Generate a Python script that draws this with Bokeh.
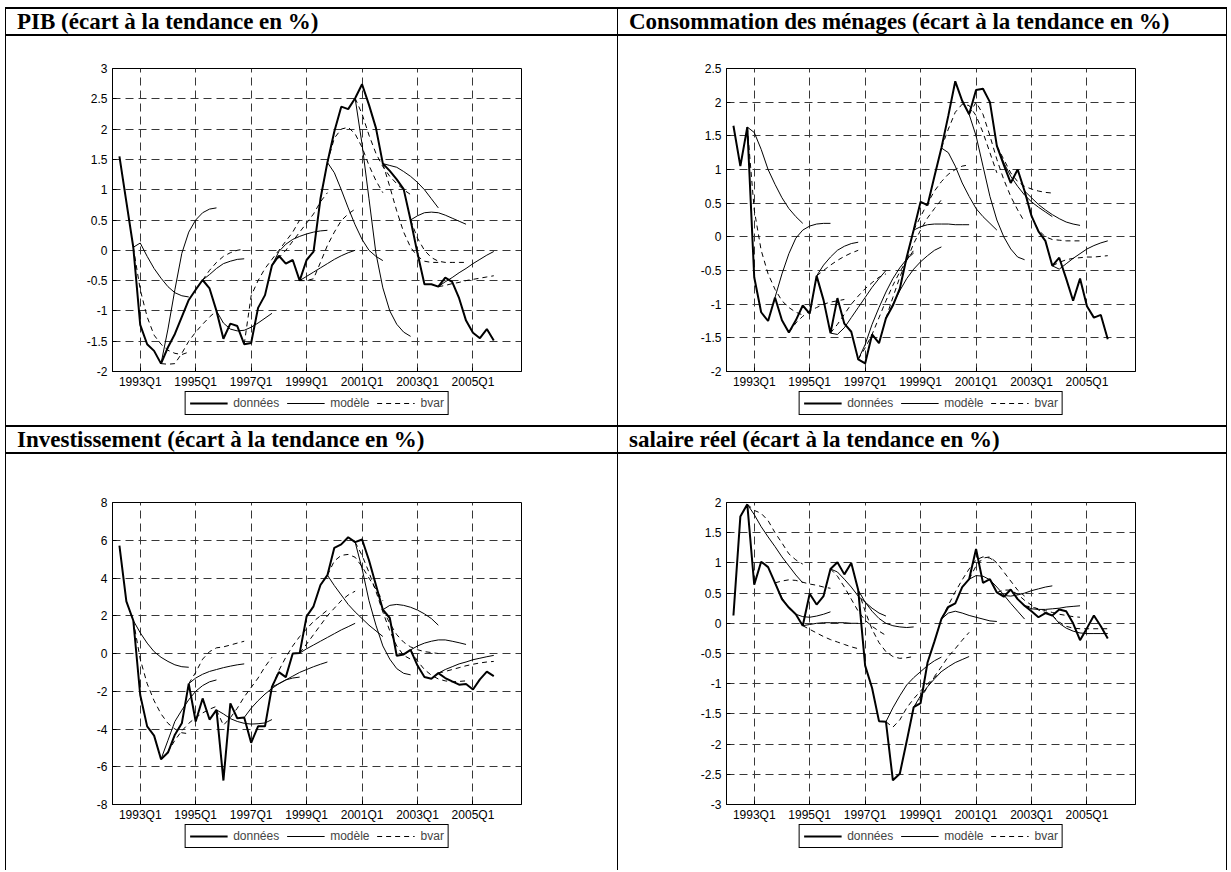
from bokeh.plotting import figure
from bokeh.models import (Range1d, FixedTicker, CustomJSTickFormatter, Legend,
                          LegendItem, Div)
from bokeh.layouts import column, row
from bokeh.embed import file_html
from bokeh.resources import INLINE

# Quarter index: 0 = 1992Q1, observations start in 1992Q2
first_quarter = 1
x_ticks = [4, 12, 20, 28, 36, 44, 52]
x_tick_labels = ["1993Q1", "1995Q1", "1997Q1", "1999Q1", "2001Q1", "2003Q1", "2005Q1"]
legend_labels = ["données", "modèle", "bvar"]

titles = [
    "PIB (écart à la tendance en %)",
    "Consommation des ménages (écart à la tendance en %)",
    "Investissement (écart à la tendance en %)",
    "salaire réel (écart à la tendance en %)",
]

# ---------------- PIB ----------------
pib_y_ticks = [-2, -1.5, -1, -0.5, 0, 0.5, 1, 1.5, 2, 2.5, 3]
pib_data = [1.55, 0.8, 0.05, -1.23, -1.55, -1.66, -1.87, -1.6, -1.38, -1.1,
            -0.82, -0.65, -0.49, -0.63, -1.0, -1.46, -1.21, -1.25, -1.55, -1.53,
            -0.95, -0.74, -0.25, -0.09, -0.22, -0.16, -0.5, -0.16, -0.02, 0.85,
            1.45, 1.96, 2.37, 2.33, 2.51, 2.74, 2.4, 2.02, 1.43, 1.31,
            1.17, 1.01, 0.5, -0.05, -0.56, -0.56, -0.6, -0.45, -0.52, -0.79,
            -1.16, -1.36, -1.45, -1.3, -1.49]
# forecasts: (origin quarter, path)
pib_model = [
    (3, [0.05, 0.12, -0.1, -0.3, -0.46, -0.6, -0.7, -0.75, -0.77]),
    (7, [-1.87, -1.3, -0.65, -0.05, 0.3, 0.5, 0.62, 0.68, 0.7]),
    (13, [-0.49, -0.4, -0.3, -0.22, -0.18, -0.15, -0.14]),
    (15, [-1.0, -1.2, -1.3, -1.33, -1.32, -1.27, -1.2, -1.12, -1.04]),
    (23, [-0.25, -0.02, 0.1, 0.18, 0.23, 0.27, 0.3, 0.32, 0.33]),
    (27, [-0.5, -0.43, -0.36, -0.29, -0.22, -0.15, -0.09, -0.04, 0.0]),
    (31, [1.45, 1.28, 1.0, 0.7, 0.42, 0.18, 0.0, -0.1, -0.17]),
    (35, [2.51, 1.75, 0.85, -0.05, -0.62, -1.0, -1.22, -1.35, -1.42]),
    (39, [1.43, 1.4, 1.37, 1.3, 1.22, 1.12, 1.0, 0.85, 0.7]),
    (43, [0.5, 0.57, 0.62, 0.63, 0.62, 0.58, 0.53, 0.48, 0.43]),
    (47, [-0.6, -0.52, -0.45, -0.37, -0.3, -0.22, -0.15, -0.08, -0.02]),
]
pib_bvar = [
    (3, [0.05, -0.65, -1.1, -1.4, -1.55, -1.65, -1.7, -1.72, -1.68]),
    (7, [-1.87, -1.88, -1.87, -1.7, -1.5, -1.35, -1.22, -1.1, -1.0]),
    (13, [-0.49, -0.33, -0.2, -0.1, -0.04, 0.0, 0.02]),
    (19, [-1.55, -0.75, -0.5, -0.3, -0.15, 0.0, 0.15, 0.3, 0.5]),
    (23, [-0.25, -0.12, 0.0, 0.15, 0.3, 0.45, 0.6, 0.8, 0.95]),
    (27, [-0.5, -0.5, -0.47, -0.2, 0.08, 0.3, 0.49, 0.6, 0.68]),
    (31, [1.45, 1.85, 2.0, 2.03, 1.92, 1.7, 1.4, 1.15, 0.95]),
    (35, [2.51, 2.25, 1.9, 1.6, 1.38, 1.22, 1.1, 1.0, 0.92]),
    (39, [1.43, 1.05, 0.65, 0.3, 0.05, -0.1, -0.18, -0.2, -0.2]),
    (43, [0.5, 0.2, 0.0, -0.12, -0.18, -0.2, -0.2, -0.2, -0.2]),
    (47, [-0.6, -0.58, -0.55, -0.53, -0.5, -0.48, -0.46, -0.44, -0.42]),
]

# ---------------- Consommation ----------------
conso_y_ticks = [-2, -1.5, -1, -0.5, 0, 0.5, 1, 1.5, 2, 2.5]
conso_data = [1.65, 1.05, 1.63, -0.6, -1.12, -1.25, -0.9, -1.24, -1.42, -1.24,
              -1.02, -1.14, -0.58, -0.94, -1.43, -0.91, -1.29, -1.41, -1.82, -1.88,
              -1.45, -1.58, -1.21, -1.02, -0.77, -0.3, 0.1, 0.52, 0.47, 0.9,
              1.32, 1.8, 2.31, 2.02, 1.82, 2.18, 2.2, 2.0, 1.35, 1.07,
              0.8, 1.0, 0.68, 0.31, 0.08, -0.06, -0.43, -0.31, -0.62, -0.95,
              -0.62, -1.03, -1.2, -1.16, -1.52]
conso_model = [
    (3, [1.63, 1.55, 1.3, 1.0, 0.78, 0.58, 0.42, 0.3, 0.2]),
    (7, [-0.9, -0.55, -0.25, -0.02, 0.1, 0.16, 0.19, 0.2, 0.2]),
    (13, [-0.58, -0.42, -0.3, -0.2, -0.14, -0.1, -0.08]),
    (15, [-1.43, -1.45, -1.35, -1.2, -1.05, -0.9, -0.75, -0.62, -0.5]),
    (19, [-1.82, -1.6, -1.3, -1.05, -0.82, -0.62, -0.46, -0.33, -0.24]),
    (23, [-1.21, -1.0, -0.8, -0.62, -0.48, -0.37, -0.28, -0.2, -0.15]),
    (27, [0.1, 0.15, 0.18, 0.19, 0.19, 0.19, 0.18, 0.18, 0.18]),
    (31, [1.32, 1.25, 1.05, 0.8, 0.6, 0.42, 0.3, 0.2, 0.1]),
    (35, [1.82, 1.5, 1.05, 0.6, 0.25, 0.0, -0.18, -0.3, -0.34]),
    (39, [1.35, 1.1, 0.9, 0.75, 0.62, 0.52, 0.44, 0.37, 0.3]),
    (43, [0.68, 0.58, 0.48, 0.4, 0.33, 0.27, 0.22, 0.19, 0.17]),
    (47, [-0.43, -0.48, -0.4, -0.32, -0.25, -0.18, -0.13, -0.09, -0.06]),
]
conso_bvar = [
    (3, [1.63, 0.4, -0.2, -0.55, -0.78, -0.95, -1.05, -1.12, -1.16]),
    (9, [-1.42, -1.28, -1.18, -1.1, -1.05, -1.0, -0.97, -0.95, -0.93]),
    (13, [-0.58, -0.5, -0.42, -0.35, -0.29, -0.24, -0.2]),
    (15, [-1.43, -1.3, -1.15, -1.0, -0.88, -0.77, -0.68, -0.6, -0.55]),
    (19, [-1.82, -1.65, -1.45, -1.2, -0.95, -0.72, -0.52, -0.35, -0.2]),
    (23, [-1.21, -0.9, -0.6, -0.35, -0.1, 0.1, 0.28, 0.42, 0.55]),
    (27, [0.1, 0.3, 0.5, 0.68, 0.82, 0.93, 1.0, 1.05, 1.07]),
    (31, [1.32, 1.6, 1.85, 1.97, 1.95, 1.8, 1.55, 1.25, 0.95]),
    (35, [1.82, 2.0, 1.82, 1.5, 1.15, 0.85, 0.6, 0.4, 0.22]),
    (39, [1.35, 1.15, 0.95, 0.82, 0.75, 0.71, 0.68, 0.66, 0.65]),
    (43, [0.68, 0.3, 0.1, 0.0, -0.04, -0.05, -0.06, -0.06, -0.06]),
    (47, [-0.43, -0.38, -0.34, -0.32, -0.31, -0.3, -0.3, -0.29, -0.28]),
]

# ---------------- Investissement ----------------
inv_y_ticks = [-8, -6, -4, -2, 0, 2, 4, 6, 8]
inv_data = [5.72, 2.76, 1.75, -2.2, -3.86, -4.35, -5.6, -5.25, -4.3, -3.7,
            -1.6, -3.6, -2.38, -3.5, -2.99, -6.73, -2.64, -3.43, -3.39, -4.73,
            -3.86, -3.86, -1.77, -0.99, -1.25, 0.0, 0.02, 1.97, 2.5, 3.63,
            4.15, 5.6, 5.78, 6.16, 5.9, 6.04, 4.94, 3.63, 2.32, 1.88,
            -0.12, -0.05, 0.19, -0.64, -1.25, -1.34, -1.04, -1.3, -1.48, -1.65,
            -1.62, -1.91, -1.37, -0.96, -1.2]
inv_model = [
    (3, [1.75, 1.1, 0.55, 0.1, -0.2, -0.42, -0.6, -0.7, -0.73]),
    (7, [-5.6, -4.6, -3.6, -3.0, -2.45, -2.0, -1.7, -1.5, -1.4]),
    (11, [-1.6, -1.3, -1.1, -0.95, -0.85, -0.75, -0.67, -0.6, -0.55]),
    (15, [-2.99, -3.2, -3.45, -3.6, -3.7, -3.74, -3.72, -3.68, -3.5]),
    (19, [-3.39, -2.9, -2.5, -2.15, -1.85, -1.6, -1.4, -1.3, -1.25]),
    (23, [-1.77, -1.6, -1.4, -1.2, -1.0, -0.85, -0.7, -0.57, -0.45]),
    (27, [0.02, 0.25, 0.45, 0.65, 0.85, 1.05, 1.25, 1.42, 1.6]),
    (31, [4.15, 3.6, 3.1, 2.6, 2.2, 1.85, 1.5, 1.2, 0.9]),
    (35, [5.9, 4.5, 2.8, 1.5, 0.4, -0.3, -0.8, -1.05, -1.13]),
    (39, [2.32, 2.55, 2.6, 2.55, 2.45, 2.3, 2.1, 1.85, 1.5]),
    (43, [0.19, 0.4, 0.55, 0.65, 0.72, 0.72, 0.65, 0.57, 0.48]),
    (47, [-1.04, -0.85, -0.7, -0.55, -0.45, -0.33, -0.25, -0.17, -0.1]),
]
inv_bvar = [
    (3, [1.75, -0.3, -1.6, -2.5, -3.2, -3.7, -4.0, -4.2, -4.25]),
    (7, [-5.6, -5.2, -4.6, -4.1, -3.7, -3.4, -3.15, -2.95, -2.8]),
    (11, [-1.6, -1.0, -0.3, 0.1, 0.3, 0.35, 0.45, 0.55, 0.65]),
    (15, [-2.99, -3.8, -3.4, -2.9, -2.3, -1.8, -1.3, -0.7, -0.2]),
    (23, [-1.77, -0.9, -0.2, 0.4, 0.9, 1.3, 1.7, 2.0, 2.3]),
    (27, [0.02, 0.5, 1.0, 1.5, 2.0, 2.4, 2.8, 3.1, 3.3]),
    (31, [4.15, 4.9, 5.2, 5.25, 5.1, 4.6, 4.0, 3.4, 2.8]),
    (35, [5.9, 5.2, 4.3, 3.3, 2.2, 1.2, 0.4, -0.1, -0.3]),
    (39, [2.32, 1.6, 1.0, 0.6, 0.35, 0.2, 0.1, 0.05, 0.0]),
    (43, [0.19, -0.4, -0.85, -1.15, -1.35, -1.45, -1.5, -1.48, -1.45]),
    (47, [-1.04, -0.95, -0.85, -0.75, -0.65, -0.57, -0.5, -0.45, -0.42]),
]

# ---------------- Salaire réel ----------------
wage_y_ticks = [-3, -2.5, -2, -1.5, -1, -0.5, 0, 0.5, 1, 1.5, 2]
wage_data = [0.13, 1.77, 1.97, 0.64, 1.02, 0.93, 0.67, 0.4, 0.26, 0.15,
             -0.04, 0.49, 0.31, 0.45, 0.9, 1.01, 0.81, 1.0, 0.55, -0.7,
             -1.07, -1.62, -1.63, -2.6, -2.49, -1.95, -1.39, -1.32, -0.65, -0.3,
             0.07, 0.27, 0.33, 0.6, 0.73, 1.23, 0.67, 0.73, 0.51, 0.44,
             0.56, 0.4, 0.29, 0.2, 0.1, 0.17, 0.13, 0.23, 0.2, 0.0,
             -0.28, -0.08, 0.13, -0.05, -0.25]
wage_model = [
    (3, [1.97, 1.8, 1.6, 1.43, 1.27, 1.1, 0.95, 0.8, 0.67]),
    (7, [0.67, 0.42, 0.25, 0.15, 0.11, 0.1, 0.12, 0.15, 0.19]),
    (11, [-0.04, -0.02, 0.0, 0.01, 0.01, 0.01, 0.01, 0.0, 0.0]),
    (15, [0.9, 0.85, 0.73, 0.6, 0.45, 0.35, 0.25, 0.17, 0.12]),
    (19, [0.55, 0.35, 0.2, 0.08, 0.0, -0.04, -0.06, -0.07, -0.06]),
    (23, [-1.63, -1.4, -1.2, -1.02, -0.9, -0.8, -0.7, -0.62, -0.56]),
    (27, [-1.39, -1.2, -1.05, -0.92, -0.8, -0.72, -0.65, -0.6, -0.55]),
    (31, [0.07, 0.17, 0.2, 0.17, 0.13, 0.1, 0.07, 0.04, 0.03]),
    (35, [0.73, 0.79, 0.78, 0.72, 0.6, 0.47, 0.33, 0.2, 0.07]),
    (39, [0.51, 0.46, 0.45, 0.47, 0.5, 0.54, 0.57, 0.6, 0.62]),
    (43, [0.29, 0.24, 0.23, 0.23, 0.24, 0.25, 0.27, 0.28, 0.29]),
    (47, [0.13, 0.0, -0.08, -0.13, -0.16, -0.17, -0.17, -0.17, -0.17]),
]
wage_bvar = [
    (3, [1.97, 1.87, 1.82, 1.7, 1.5, 1.33, 1.15, 1.05, 0.98]),
    (7, [0.67, 0.7, 0.72, 0.71, 0.68, 0.65, 0.63, 0.6, 0.58]),
    (11, [-0.04, -0.1, -0.16, -0.22, -0.27, -0.31, -0.35, -0.39, -0.42]),
    (15, [0.9, 0.78, 0.6, 0.4, 0.2, 0.05, -0.05, -0.13, -0.2]),
    (19, [0.55, 0.2, -0.1, -0.32, -0.47, -0.55, -0.58, -0.57, -0.55]),
    (23, [-1.63, -1.72, -1.6, -1.4, -1.25, -1.12, -1.0, -0.9, -0.8]),
    (27, [-1.39, -1.25, -1.05, -0.88, -0.72, -0.55, -0.42, -0.28, -0.15]),
    (31, [0.07, 0.3, 0.52, 0.72, 0.9, 1.05, 1.1, 1.08, 1.0]),
    (35, [0.73, 0.95, 1.08, 1.1, 1.0, 0.85, 0.7, 0.55, 0.45]),
    (39, [0.51, 0.55, 0.55, 0.48, 0.38, 0.3, 0.22, 0.18, 0.15]),
    (43, [0.29, 0.27, 0.24, 0.21, 0.18, 0.15, 0.13, 0.11, 0.1]),
    (47, [0.13, 0.02, -0.05, -0.08, -0.09, -0.09, -0.09, -0.09, -0.09]),
]

SANS = "Liberation Sans"
SERIF = "Liberation Serif"
DATA_STYLE = dict(line_color="black", line_width=2)
MODEL_STYLE = dict(line_color="black", line_width=1)
BVAR_STYLE = dict(line_color="black", line_width=1, line_dash="5 4")


def segments(fcst):
    xs = [list(range(start, start + len(path))) for start, path in fcst]
    ys = [list(path) for _, path in fcst]
    return xs, ys


def add_series(p, data, model, bvar):
    bx, by = segments(bvar)
    mx, my = segments(model)
    t = list(range(first_quarter, first_quarter + len(data)))
    r_bvar = p.multi_line(bx, by, **BVAR_STYLE)
    r_model = p.multi_line(mx, my, **MODEL_STYLE)
    r_data = p.line(t, data, **DATA_STYLE)
    return r_data, r_model, r_bvar


def make_chart(data, model, bvar, y_ticks, width, height, left, top, bottom, right):
    p = figure(width=width, height=height, x_range=Range1d(0, 59),
               y_range=Range1d(y_ticks[0], y_ticks[-1]),
               output_backend="svg", toolbar_location=None,
               min_border_left=left, min_border_right=right,
               min_border_top=top, min_border_bottom=bottom)
    p.background_fill_color = "white"
    p.border_fill_color = "white"
    p.outline_line_color = "black"
    p.outline_line_alpha = 1
    p.outline_line_width = 1

    p.xgrid.ticker = FixedTicker(ticks=x_ticks)
    p.ygrid.ticker = FixedTicker(ticks=y_ticks)
    for g in (p.xgrid[0], p.ygrid[0]):
        g.grid_line_color = "#383838"
        g.grid_line_dash = "8 5"
        g.grid_line_width = 1

    xa, ya = p.xaxis[0], p.yaxis[0]
    xa.ticker = FixedTicker(ticks=x_ticks)
    xa.major_label_overrides = dict(zip(x_ticks, x_tick_labels))
    ya.ticker = FixedTicker(ticks=y_ticks)
    ya.formatter = CustomJSTickFormatter(code="return String(tick);")
    for ax in (xa, ya):
        ax.axis_line_color = "black"
        ax.axis_line_width = 1
        ax.major_tick_in = 4
        ax.major_tick_out = 0
        ax.major_tick_line_color = "black"
        ax.minor_tick_line_color = None
        ax.major_label_text_font = SANS
        ax.major_label_text_font_size = "12px"
        ax.major_label_text_color = "black"
    xa.major_label_standoff = 3
    ya.major_label_standoff = 5

    add_series(p, data, model, bvar)
    return p


def make_legend_strip(data, model, bvar, width, height, left, right):
    """Key for the three line styles, laid out under a chart.

    The series are attached with a y-range that keeps them out of view, so
    only the legend samples are visible in this strip.
    """
    p = figure(width=width, height=height, x_range=Range1d(0, 59),
               y_range=Range1d(100, 101),
               x_axis_type=None, y_axis_type=None, output_backend="svg",
               toolbar_location=None, min_border_left=left, min_border_right=right,
               min_border_top=0, min_border_bottom=0)
    p.outline_line_color = None
    p.background_fill_color = "white"
    p.border_fill_color = "white"
    r_data, r_model, r_bvar = add_series(p, data, model, bvar)
    legend = Legend(
        items=[LegendItem(label=legend_labels[0], renderers=[r_data]),
               LegendItem(label=legend_labels[1], renderers=[r_model]),
               LegendItem(label=legend_labels[2], renderers=[r_bvar])],
        orientation="horizontal", location="top_center",
        glyph_width=38, glyph_height=12, label_height=12, label_width=10,
        label_standoff=6, spacing=7, padding=4, margin=0,
        label_text_font=SANS, label_text_font_size="12px",
        border_line_color="black", border_line_width=1, border_line_alpha=1,
        background_fill_color="white", background_fill_alpha=1)
    p.add_layout(legend)
    return p


def line_div(w, h):
    return Div(width=w, height=h, margin=0, styles={"background-color": "black"})


def title_div(text, w, h):
    return Div(text=text, width=w, height=h, margin=0,
               styles={"font-family": SERIF, "font-weight": "bold",
                       "font-size": "23px", "line-height": f"{h}px",
                       "padding-left": "11px", "box-sizing": "border-box",
                       "color": "black", "white-space": "nowrap"})


W1, W2 = 611, 608
H1, H2 = 389, 416
TH1, TH2 = 25, 25
FULL = W1 + W2 + 3

C1 = 32 + 306 + 17      # chart height, first row
C2 = 48 + 305 + 17      # chart height, second row


def cell(data, model, bvar, y_ticks, w, h, chart_h, top, left, right):
    chart = make_chart(data, model, bvar, y_ticks, w, chart_h, left, top, 17, right)
    key = make_legend_strip(data, model, bvar, w, h - chart_h, left, right)
    return column(chart, key)


cell1 = cell(pib_data, pib_model, pib_bvar, pib_y_ticks, W1, H1, C1, 32, 106, 96)
cell2 = cell(conso_data, conso_model, conso_bvar, conso_y_ticks, W2, H1, C1, 32, 108, 91)
cell3 = cell(inv_data, inv_model, inv_bvar, inv_y_ticks, W1, H2, C2, 48, 106, 96)
cell4 = cell(wage_data, wage_model, wage_bvar, wage_y_ticks, W2, H2, C2, 48, 108, 91)

table = column(
    Div(width=FULL, height=7, margin=0),
    line_div(FULL, 2),
    row(line_div(1, TH1), title_div(titles[0], W1, TH1), line_div(1, TH1),
        title_div(titles[1], W2, TH1), line_div(1, TH1)),
    line_div(FULL, 2),
    row(line_div(1, H1), cell1, line_div(1, H1), cell2, line_div(1, H1)),
    line_div(FULL, 2),
    row(line_div(1, TH2), title_div(titles[2], W1, TH2), line_div(1, TH2),
        title_div(titles[3], W2, TH2), line_div(1, TH2)),
    line_div(FULL, 2),
    row(line_div(1, H2), cell3, line_div(1, H2), cell4, line_div(1, H2)),
)
page = row(Div(width=5, height=10, margin=0), table)

open("out.html", "w").write(file_html(page, INLINE))
